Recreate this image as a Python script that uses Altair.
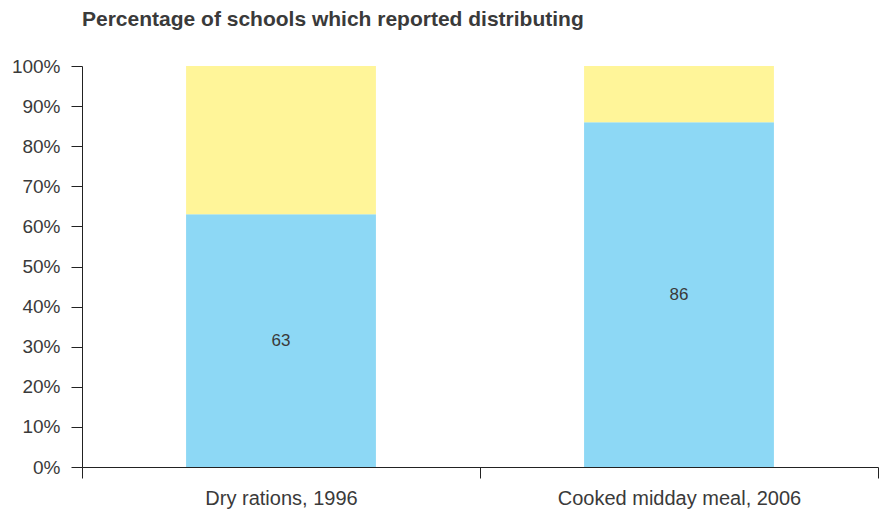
import altair as alt
import pandas as pd

# Share of schools, by programme
programmes = ["Dry rations, 1996", "Cooked midday meal, 2006"]
distributing = [63, 86]
not_distributing = [37, 14]
statuses = ["Distributing", "Not distributing"]
palette = ["#8dd8f5", "#fff599"]

rows = []
for p, d, n in zip(programmes, distributing, not_distributing):
    rows.append({"programme": p, "status": statuses[0], "value": d, "order": 0})
    rows.append({"programme": p, "status": statuses[1], "value": n, "order": 1})
df = pd.DataFrame(rows)
labels = pd.DataFrame({"programme": programmes, "value": distributing})

ink = "#3a3a3a"
axis_ink = "#222222"

x_enc = alt.X(
    "programme:N",
    sort=programmes,
    title=None,
    scale=alt.Scale(paddingInner=0, paddingOuter=0),
    axis=alt.Axis(
        labelAngle=0,
        tickBand="extent",
        tickSize=11,
        labelPadding=10,
        labelFontSize=20,
        labelLimit=0,
        labelColor=ink,
        labelFont="Liberation Sans",
        domainColor=axis_ink,
        tickColor=axis_ink,
    ),
)

bars = alt.Chart(df).mark_bar(width=alt.RelativeBandSize(0.477)).encode(
    x=x_enc,
    y=alt.Y(
        "value:Q",
        stack="zero",
        title=None,
        scale=alt.Scale(domain=[0, 100]),
        axis=alt.Axis(
            values=list(range(0, 101, 10)),
            labelExpr="datum.value + '%'",
            tickSize=11,
            labelPadding=11,
            labelFontSize=19,
            labelColor=ink,
            labelFont="Liberation Sans",
            grid=False,
            domainColor=axis_ink,
            tickColor=axis_ink,
        ),
    ),
    color=alt.Color(
        "status:N",
        scale=alt.Scale(domain=statuses, range=palette),
        legend=None,
    ),
    order=alt.Order("order:Q"),
)

text = alt.Chart(labels).mark_text(
    fontSize=17, color=ink, font="Liberation Sans"
).encode(
    x=alt.X("programme:N", sort=programmes),
    y=alt.Y("mid:Q"),
    text=alt.Text("value:Q"),
).transform_calculate(mid="datum.value / 2")

chart = (
    alt.layer(bars, text)
    .properties(
        width=796,
        height=401,
        title=alt.TitleParams(
            "Percentage of schools which reported distributing",
            anchor="start",
            frame="group",
            fontSize=21,
            fontWeight="bold",
            font="Liberation Sans",
            color=ink,
            offset=27,
        ),
        padding={"left": 82, "top": 66, "right": 10, "bottom": 44},
        autosize=alt.AutoSizeParams(type="none"),
    )
    .configure_view(stroke=None)
)

chart.save("out.html", embed_options={"renderer": "svg", "actions": False})
